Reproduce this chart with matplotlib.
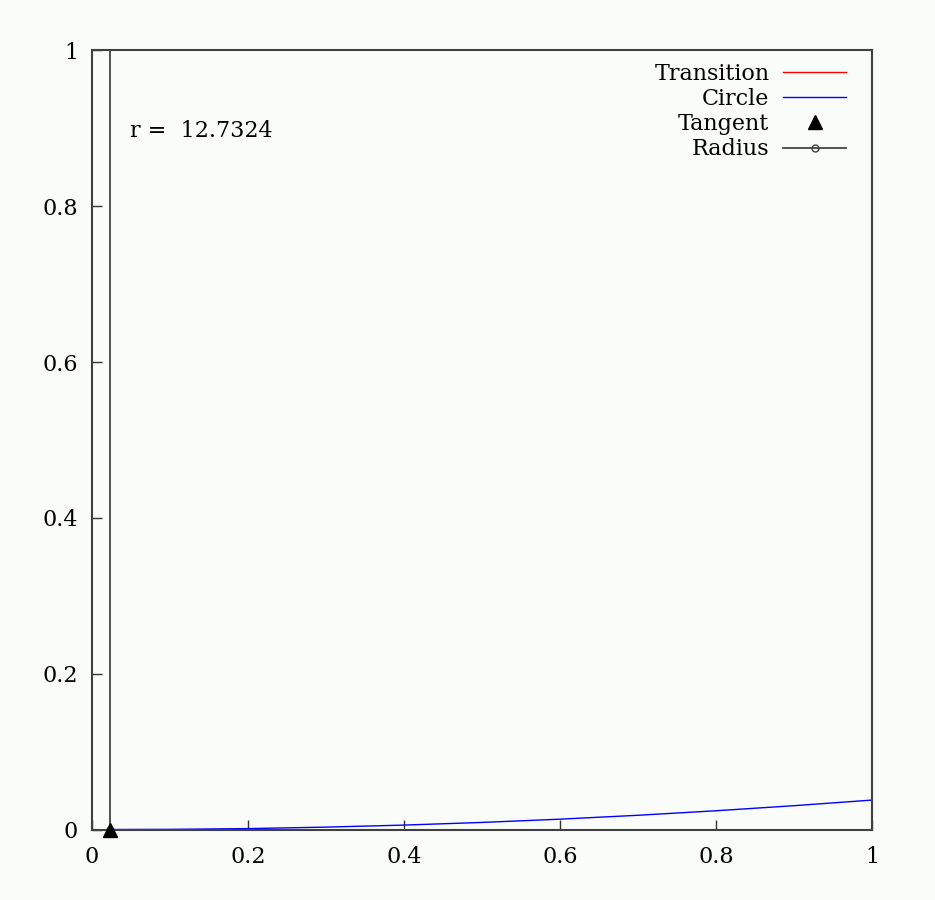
import matplotlib
matplotlib.use("Agg")
import matplotlib.pyplot as plt

# values
transition_x = [0.0, 0.0235]
transition_y = [0.0, 0.0]

circle_x = [0.0235, 0.1, 0.2, 0.3, 0.4, 0.5, 0.6, 0.7, 0.8, 0.9, 1.0]
circle_y = [0.0, 0.0002, 0.0012, 0.0031, 0.0057, 0.0091, 0.0133, 0.0183, 0.0241, 0.0306, 0.0378]

tangent_x = [0.0235]
tangent_y = [0.0]

radius_x = [0.0235, 0.0235]
radius_y = [0.0, 12.7324]

radius_label = "r =  12.7324"

xticks = [0, 0.2, 0.4, 0.6, 0.8, 1]
xtick_labels = ["0", "0.2", "0.4", "0.6", "0.8", "1"]
yticks = [0, 0.2, 0.4, 0.6, 0.8, 1]
ytick_labels = ["0", "0.2", "0.4", "0.6", "0.8", "1"]

bg = "#fafcfa"
plt.rcParams["font.family"] = ["DejaVu Serif"]

fig = plt.figure(figsize=(9.35, 9.0), dpi=100, facecolor=bg)
ax = fig.add_axes([0.0984, 0.0783, 0.8342, 0.8656], facecolor=bg)

ax.plot(transition_x, transition_y, color="red", lw=1.0, label="Transition")
ax.plot(circle_x, circle_y, color="blue", lw=1.0, label="Circle")
ax.plot(tangent_x, tangent_y, ls="none", marker="^", ms=10.5, color="black",
        label="Tangent", zorder=5, clip_on=False)
ax.plot(radius_x, radius_y, color="#444444", lw=1.3, marker="o", ms=5,
        mfc="none", mec="#444444", label="Radius")

ax.text(0.049, 0.897, radius_label, fontsize=16, va="center", ha="left")

ax.set_xlim(0, 1)
ax.set_ylim(0, 1)
ax.set_xticks(xticks)
ax.set_xticklabels(xtick_labels)
ax.set_yticks(yticks)
ax.set_yticklabels(ytick_labels)
ax.tick_params(axis="x", direction="in", length=7, width=1.0, pad=12,
               labelsize=16, color="#333333")
ax.tick_params(axis="y", direction="in", length=7, width=1.0, pad=10,
               labelsize=16, color="#333333")

for s in ax.spines.values():
    s.set_linewidth(1.5)
    s.set_color("#404040")

ax.legend(loc="upper right", bbox_to_anchor=(0.982, 1.0), frameon=False,
          markerfirst=False, fontsize=16, handlelength=2.8, handletextpad=0.63,
          labelspacing=0.145, borderaxespad=0.25, borderpad=0.3, numpoints=1)

fig.savefig("out.png", dpi=100, facecolor=bg)
